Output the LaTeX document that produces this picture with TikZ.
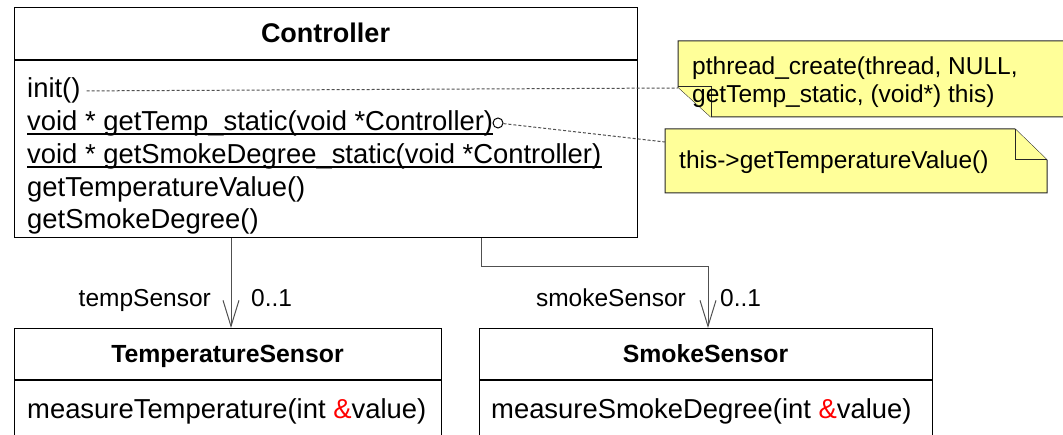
\documentclass[tikz,border=0pt]{standalone}
\usepackage{fontspec}
\setmainfont{Liberation Sans}
\usetikzlibrary{arrows.meta,calc}
\definecolor{notefill}{HTML}{FFFF99}
\definecolor{linegray}{HTML}{505050}
\tikzset{
  box/.style={draw=black, line width=1.2pt, inner sep=0pt, anchor=north west, fill=white},
  member/.style={inner sep=0pt, anchor=base west, font=\fontsize{27.4}{33}\selectfont},
  classname/.style={inner sep=0pt, anchor=base, font=\fontsize{24.8}{30}\selectfont\bfseries},
  lbl/.style={inner sep=0pt, font=\fontsize{24.5}{30}\selectfont},
  notetext/.style={inner sep=0pt, anchor=base west, font=\fontsize{24.5}{30}\selectfont},
  assoc/.style={draw=linegray, line width=1pt, -{Straight Barb[length=26pt,width=16pt,line width=1pt]}},
  link/.style={draw=linegray, line width=1pt, dash pattern=on 3pt off 2pt},
  notebox/.style={draw=black!85, line width=1pt, fill=notefill, line join=miter},
  uline/.style={draw=black, line width=1.6pt},
}
\begin{document}
\begin{tikzpicture}[x=1pt,y=-1pt]
\useasboundingbox (0,0) rectangle (1063,435);
\clip (0,0) rectangle (1063,435);
\fill[white] (0,0) rectangle (1063,435);

% Controller class
\node[box, minimum width=623pt, minimum height=230pt] (ctrl) at (14,7) {};
\path (ctrl.north west) ++(0,53) coordinate (cdiv);
\draw[line width=1.2pt] (cdiv) -- (cdiv -| ctrl.east);
\node[classname, font=\fontsize{27}{32}\selectfont\bfseries] (ctitle) at (325.5,43) {Controller};
\node[member] (m1) at (27,98) {init()};
\node[member] (m2) at (27,131) {void * getTemp\_static(void *Controller)};
\node[member] (m3) at (27,164) {void * getSmokeDegree\_static(void *Controller)};
\node[member] (m4) at (27,197) {getTemperatureValue()};
\node[member] (m5) at (27,229) {getSmokeDegree()};
\draw[uline] ([yshift=-3pt]m2.base west) -- ([yshift=-3pt]m2.base east);
\draw[uline] ([yshift=-3pt]m3.base west) -- ([yshift=-3pt]m3.base east);
\node[draw=black, line width=1pt, circle, minimum size=10pt, inner sep=0pt] (port) at (498,123) {};

% TemperatureSensor class
\node[box, minimum width=427pt, minimum height=120pt] (temp) at (14,328) {};
\path (temp.north west) ++(0,52) coordinate (tdiv);
\draw[line width=1.2pt] (tdiv) -- (tdiv -| temp.east);
\node[classname] (ttitle) at (227.5,363) {TemperatureSensor};
\node[member] (tm1) at (27,418) {measureTemperature(int {\color{red}\&}value)};

% SmokeSensor class
\node[box, minimum width=453pt, minimum height=120pt] (smoke) at (479,328) {};
\path (smoke.north west) ++(0,52) coordinate (sdiv);
\draw[line width=1.2pt] (sdiv) -- (sdiv -| smoke.east);
\node[classname] (stitle) at (705.5,363) {SmokeSensor};
\node[member] (sm1) at (491,418) {measureSmokeDegree(int {\color{red}\&}value)};

% associations
\path (temp.north west) ++(217,0) coordinate (tin);
\draw[assoc] (tin |- ctrl.south) -- (tin);
\node[lbl, anchor=base east] (trole) at (211,307) {tempSensor};
\node[lbl, anchor=base west] (tmult) at (251,307) {0..1};

\path (smoke.north west) ++(229,0) coordinate (sin);
\path (ctrl.south west) ++(467,0) coordinate (sout);
\draw[assoc] (sout) -- ++(0,28) -| (sin);
\node[lbl, anchor=base east] (srole) at (686,307) {smokeSensor};
\node[lbl, anchor=base west] (smult) at (720,307) {0..1};

% notes
\draw[notebox] (678,41) -- (1070,41) -- (1070,117) -- (711,117) -- (678,87) -- cycle;
\draw[notebox] (678,87) -- (711,87) -- (711,117);
\coordinate (n1) at (678,88);
\node[notetext] (n1a) at (692,75) {pthread\_create(thread, NULL,};
\node[notetext] (n1b) at (692,103) {getTemp\_static, (void*) this)};

\draw[notebox] (665,129) -- (1015,129) -- (1047,160) -- (1047,193) -- (665,193) -- cycle;
\draw[notebox] (1015,129) -- (1015,160) -- (1047,160);
\coordinate (n2) at (665,142);
\node[notetext] (n2a) at (679,169) {this->getTemperatureValue()};

% note links
\draw[link] ([xshift=6pt]m1.east) -- (n1);
\draw[link] (port) -- (n2);
\end{tikzpicture}
\end{document}
